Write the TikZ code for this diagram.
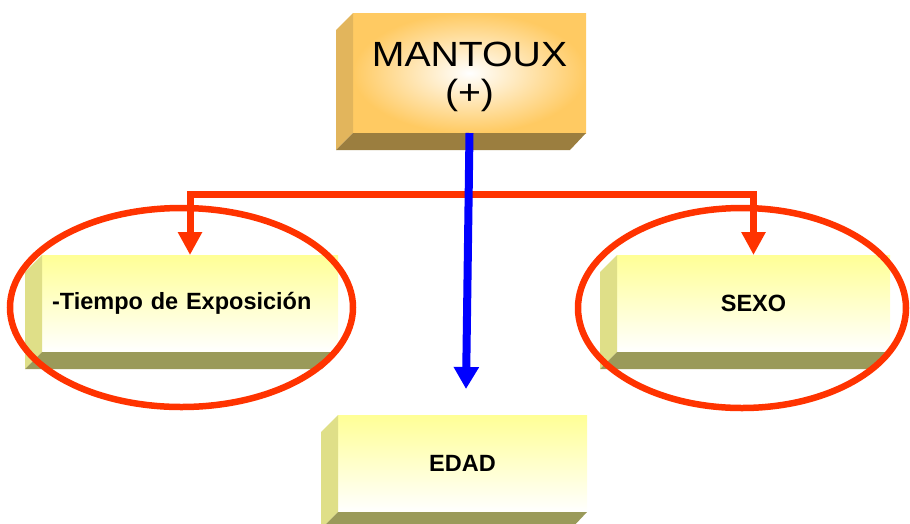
\documentclass[tikz,border=0pt]{standalone}
\usepackage{fontspec}
\setmainfont{Liberation Sans}
\newfontfamily\widefont[FakeStretch=1.12]{Liberation Sans}
\usetikzlibrary{arrows.meta,calc}
\definecolor{mango}{HTML}{FFCA62}
\definecolor{mangoside}{HTML}{E2B55C}
\definecolor{mangobase}{HTML}{9B7E3F}
\definecolor{lemon}{HTML}{FFFF96}
\definecolor{lemonside}{HTML}{DFDF88}
\definecolor{lemonbase}{HTML}{9A9A5A}
\definecolor{ringred}{HTML}{FF3300}
\tikzset{
  face/.style={inner sep=0pt, outer sep=0pt, font=\fontsize{23.5}{27}\selectfont\bfseries},
  lemonface/.style={face, top color=lemon, bottom color=white, minimum height=97pt},
  ring/.style={ringred, line width=6.5pt},
  redarrow/.style={ringred, line width=7pt, -{Triangle[width=23pt,length=23pt]}},
  bluearrow/.style={blue, line width=8pt, -{Triangle[width=24pt,length=22pt]}}
}
\newcommand{\bevel}[3]{
  \fill[#2] (#1.north west) -- ++(-17,17) -- ($(#1.south west)+(-17,17)$) -- (#1.south west) -- cycle;
  \fill[#3] (#1.south west) -- (#1.south east) -- ++(-16,17) -- ($(#1.south west)+(-17,17)$) -- cycle;
}
\begin{document}
\begin{tikzpicture}[x=1pt, y=-1pt]
\useasboundingbox (0,0) rectangle (910,523);
\node [face, shading=radial, inner color=white, outer color=mango, minimum width=233pt, minimum height=120pt,
  label={[yshift=-4pt, align=center, font=\widefont\fontsize{35}{38}\selectfont]center:{MANTOUX\\(+)}}] (mantoux) at (469.5,73) {};
\bevel{mantoux}{mangoside}{mangobase}
\node [lemonface, text width=276pt, inner xsep=10pt, align=left] (tiempo) at (190,303.5) {-Tiempo de Exposición};
\bevel{tiempo}{lemonside}{lemonbase}
\node [lemonface, minimum width=273pt] (sexo) at (753.5,303.5) {SEXO};
\bevel{sexo}{lemonside}{lemonbase}
\node [lemonface, minimum width=249pt] (edad) at (462.5,463.5) {EDAD};
\bevel{edad}{lemonside}{lemonbase}
\draw [ring] ($(tiempo.center)+(-8.5,4)$) ellipse [x radius=171.5pt, y radius=99.5pt];
\draw [ring] ($(sexo.center)+(-11.5,4.5)$) ellipse [x radius=164pt, y radius=100pt];
\coordinate (bus) at (469.5,194.5);
\draw [redarrow] (bus) -| (tiempo.north);
\draw [redarrow] (bus) -| (sexo.north);
\draw [bluearrow] (mantoux.south) -- ([xshift=3.5pt,yshift=26pt]edad.north);
\end{tikzpicture}
\end{document}
